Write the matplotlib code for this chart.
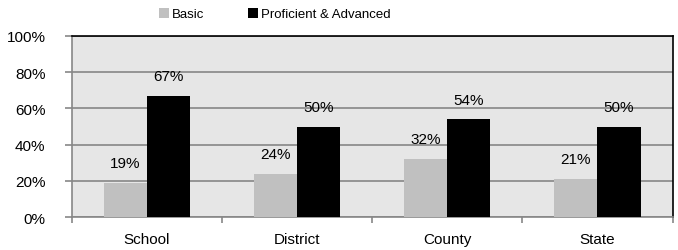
import numpy as np
import matplotlib
matplotlib.use('Agg')
import matplotlib.pyplot as plt
from matplotlib.ticker import FuncFormatter

categories = ['School', 'District', 'County', 'State']
basic = [19, 24, 32, 21]
proficient = [67, 50, 54, 50]
series_names = ['Basic', 'Proficient & Advanced']

plt.rcParams['font.family'] = ['Liberation Sans', 'DejaVu Sans']

fig = plt.figure(figsize=(6.78, 2.51), dpi=100)
ax = fig.add_axes([0.106, 0.131, 0.886, 0.722])
ax.set_facecolor('#e6e6e6')

x = np.arange(len(categories))
w = 0.287
b1 = ax.bar(x - w / 2, basic, w, color='#c0c0c0', label=series_names[0], zorder=3)
b2 = ax.bar(x + w / 2, proficient, w, color='black', label=series_names[1], zorder=3)

# value labels sit a fixed gap above each bar
for bars, vals in ((b1, basic), (b2, proficient)):
    for r, v in zip(bars, vals):
        ax.text(r.get_x() + r.get_width() / 2, v + 7, f'{v}%', ha='center', va='bottom',
                fontsize=11, zorder=4)

ax.set_xlim(-0.5, len(categories) - 0.5)
ax.set_ylim(0, 100)
ax.set_yticks(np.arange(0, 101, 20))
ax.yaxis.set_major_formatter(FuncFormatter(lambda v, p: f'{int(v)}%'))
ax.yaxis.grid(True, color='#878787', linewidth=1.2, zorder=1)

ax.set_xticks(x)
ax.set_xticklabels(categories)
ax.set_xticks(np.arange(-0.5, len(categories)), minor=True)
ax.tick_params(axis='x', which='major', length=0, labelsize=11, pad=11)
ax.tick_params(axis='x', which='minor', length=4, color='#878787', width=1.2)
ax.tick_params(axis='y', length=5, color='#878787', width=1.2, labelsize=11, pad=14)

for s in ('left', 'bottom'):
    ax.spines[s].set_color('#878787')
    ax.spines[s].set_linewidth(1.2)
for s in ('top', 'right'):
    ax.spines[s].set_color('black')
    ax.spines[s].set_linewidth(1.2)

fig.legend(loc='center', bbox_to_anchor=(0.405, 0.94), ncol=2, frameon=False,
           fontsize=9.5, handlelength=0.8, handleheight=0.8, handletextpad=0.2,
           columnspacing=3.3, borderpad=0)

fig.savefig('out.png', dpi=100)
